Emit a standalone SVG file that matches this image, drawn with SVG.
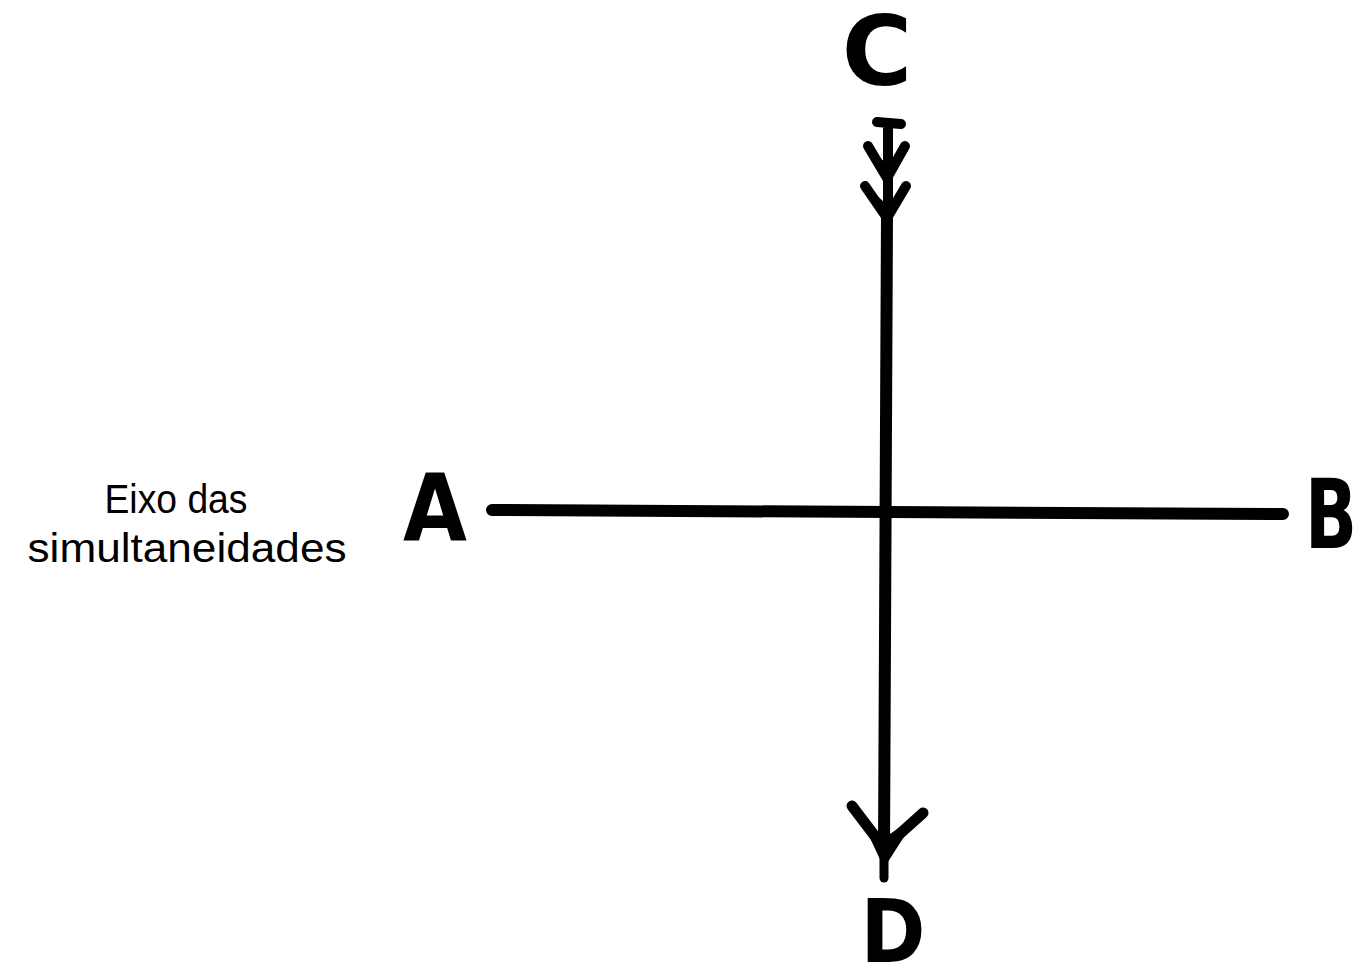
<svg xmlns="http://www.w3.org/2000/svg" width="1360" height="968" viewBox="0 0 1360 968">
<style>
.ink{stroke:#000;fill:none;stroke-linecap:round;stroke-linejoin:round}
.let{font-family:"DejaVu Sans",sans-serif;font-weight:bold;fill:#000}
.lbl{font-family:"Liberation Sans",Arial,sans-serif;font-size:40px;fill:#000}
</style>
<rect width="1360" height="968" fill="#fff"/>
<g id="connectors">
<path class="ink" stroke-width="12" d="M492 510 L1283 514"/>
<path class="ink" stroke-width="12" d="M887 214 L884 850"/>
<path class="ink" stroke-width="9" d="M884 850 L884 878"/>
<path class="ink" stroke-width="10" d="M877 122 L901 124 M888 124 L888 214"/>
<path class="ink" stroke-width="10" d="M868 146 L887 178 L905 146"/>
<path fill="#000" d="M869 146 L887 188 L904 146 L887 165 Z"/>
<path class="ink" stroke-width="10" d="M865 186 L887 218 L906 186"/>
<path fill="#000" d="M867 186 L887 228 L905 186 L887 205 Z"/>
<path class="ink" stroke-width="11" d="M852 806 L884 848 L923 813"/>
<path fill="#000" d="M856 808 L884 868 L918 815 L884 838 Z"/>
</g>
<g id="node-C"><text class="let" x="877" y="85" font-size="96" text-anchor="middle">C</text></g>
<g id="node-A"><text class="let" x="435" y="540" font-size="92" text-anchor="middle" textLength="64" lengthAdjust="spacingAndGlyphs">A</text></g>
<g id="node-B"><text class="let" x="1331" y="548" font-size="96" text-anchor="middle" textLength="52" lengthAdjust="spacingAndGlyphs">B</text></g>
<g id="node-D"><text class="let" x="893" y="962" font-size="88" text-anchor="middle" textLength="65" lengthAdjust="spacingAndGlyphs">D</text></g>
<g id="label">
<text class="lbl" x="176" y="513" text-anchor="middle" textLength="143" lengthAdjust="spacingAndGlyphs">Eixo das</text>
<text class="lbl" x="187" y="562" text-anchor="middle" textLength="319" lengthAdjust="spacingAndGlyphs">simultaneidades</text>
</g>
</svg>
